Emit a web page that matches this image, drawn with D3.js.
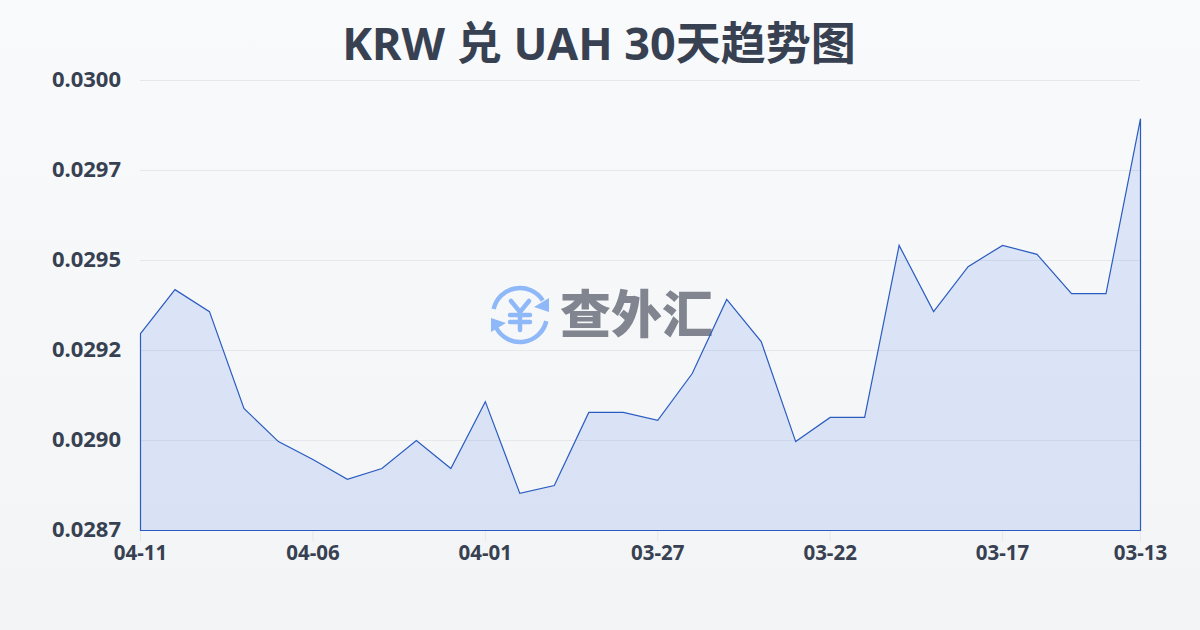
<!DOCTYPE html>
<html><head><meta charset="utf-8">
<script src="https://cdnjs.cloudflare.com/ajax/libs/d3/7.8.5/d3.min.js"></script>
<style>html,body{margin:0;padding:0;background:#f5f6f8}svg{display:block}</style>
</head><body><svg id="c" width="1200" height="630"></svg>
<script>
const titleText = "KRW 兑 UAH 30天趋势图";
const watermarkText = "查外汇";
const dates = ["04-11","04-10","04-09","04-08","04-07","04-06","04-05","04-04","04-03","04-02","04-01","03-31","03-30","03-29","03-28","03-27","03-26","03-25","03-24","03-23","03-22","03-21","03-20","03-19","03-18","03-17","03-16","03-15","03-14","03-13"];
const rates = [0.029297,0.029419,0.029358,0.029089,0.028997,0.028947,0.028892,0.028922,0.029000,0.028922,0.029108,0.028853,0.028875,0.029078,0.029078,0.029056,0.029186,0.029392,0.029275,0.028997,0.029064,0.029064,0.029542,0.029358,0.029483,0.029542,0.029517,0.029408,0.029408,0.029894];
const yTicks = [0.03,0.02975,0.0295,0.02925,0.029,0.02875];
const yTickLabels = ["0.0300","0.0297","0.0295","0.0292","0.0290","0.0287"];
const xTickLabels = ["04-11","04-06","04-01","03-27","03-22","03-17","03-13"];

const svg = d3.select("#c");
const defs = svg.append("defs");
const bg = defs.append("linearGradient").attr("id","bg").attr("x1",0).attr("y1",0).attr("x2",0).attr("y2",1);
bg.append("stop").attr("offset",0).attr("stop-color","#f9fafc");
bg.append("stop").attr("offset",1).attr("stop-color","#f3f4f6");
svg.append("rect").attr("width",1200).attr("height",630).attr("fill","url(#bg)");

const x = d3.scalePoint().domain(dates).range([140.5,1140.5]);
const y = d3.scaleLinear().domain([0.02875,0.03]).range([530.5,80.5]);

svg.append("text").attr("x",599).attr("y",60).attr("text-anchor","middle")
  .attr("font-family","'Noto Sans','Noto Sans CJK SC',sans-serif").attr("font-weight",700)
  .attr("font-size",45).attr("fill","#374151").text(titleText);

svg.append("g").selectAll("line").data(yTicks).join("line")
  .attr("x1",140).attr("x2",1140).attr("y1",d=>y(d)).attr("y2",d=>y(d))
  .attr("stroke","#e5e7eb").attr("stroke-width",1);

svg.append("g").selectAll("text").data(yTicks).join("text")
  .attr("x",121).attr("y",d=>y(d)-1).attr("dy","0.36em").attr("text-anchor","end")
  .attr("font-family","'Noto Sans',sans-serif").attr("font-weight",700).attr("font-size",22)
  .attr("fill","#374151").text((d,i)=>yTickLabels[i]);

const xg = svg.append("g").selectAll("g").data(xTickLabels).join("g")
  .attr("transform",d=>`translate(${x(d)},530)`);
xg.append("line").attr("y1",0).attr("y2",11).attr("stroke","#e5e7eb");
xg.append("text").attr("y",30).attr("text-anchor","middle")
  .attr("font-family","'Noto Sans',sans-serif").attr("font-weight",700).attr("font-size",20.5)
  .attr("fill","#374151").text(d=>d);

const wm = svg.append("g");
const icon = wm.append("g").attr("transform","translate(520,315)").attr("fill","none").attr("stroke","#8fb8f8").attr("stroke-linecap","round");
icon.append("path").attr("stroke-width",4.5).attr("d",d3.arc()({innerRadius:27,outerRadius:27,startAngle:-1.35,endAngle:1.0}));
icon.append("path").attr("stroke-width",4.5).attr("d",d3.arc()({innerRadius:27,outerRadius:27,startAngle:1.8,endAngle:4.2}));
icon.append("path").attr("fill","#8fb8f8").attr("stroke","none").attr("d","M29,-17 L29,-3 L14,-8 Z");
icon.append("path").attr("fill","#8fb8f8").attr("stroke","none").attr("d","M-29,17 L-29,3 L-14,8 Z");
icon.append("path").attr("stroke-width",4.5).attr("d","M-9,-14 L0,-3 L9,-14 M0,-3 V15 M-10,0 H10 M-10,7 H10");
wm.append("text").attr("x",560).attr("y",333).attr("font-family","'Noto Sans CJK SC',sans-serif")
  .attr("font-weight",900).attr("font-size",51).attr("fill","#80858f").text(watermarkText);

const area = d3.area().x(d=>d.x).y0(530.5).y1(d=>d.y);
const pts = dates.map((d,i)=>({x:x(d),y:y(rates[i])}));
svg.append("path").attr("d",area(pts)).attr("fill","#2563eb").attr("fill-opacity",0.13)
  .attr("stroke","#2a5cc0").attr("stroke-width",1.2).attr("stroke-linejoin","miter");
</script></body></html>
